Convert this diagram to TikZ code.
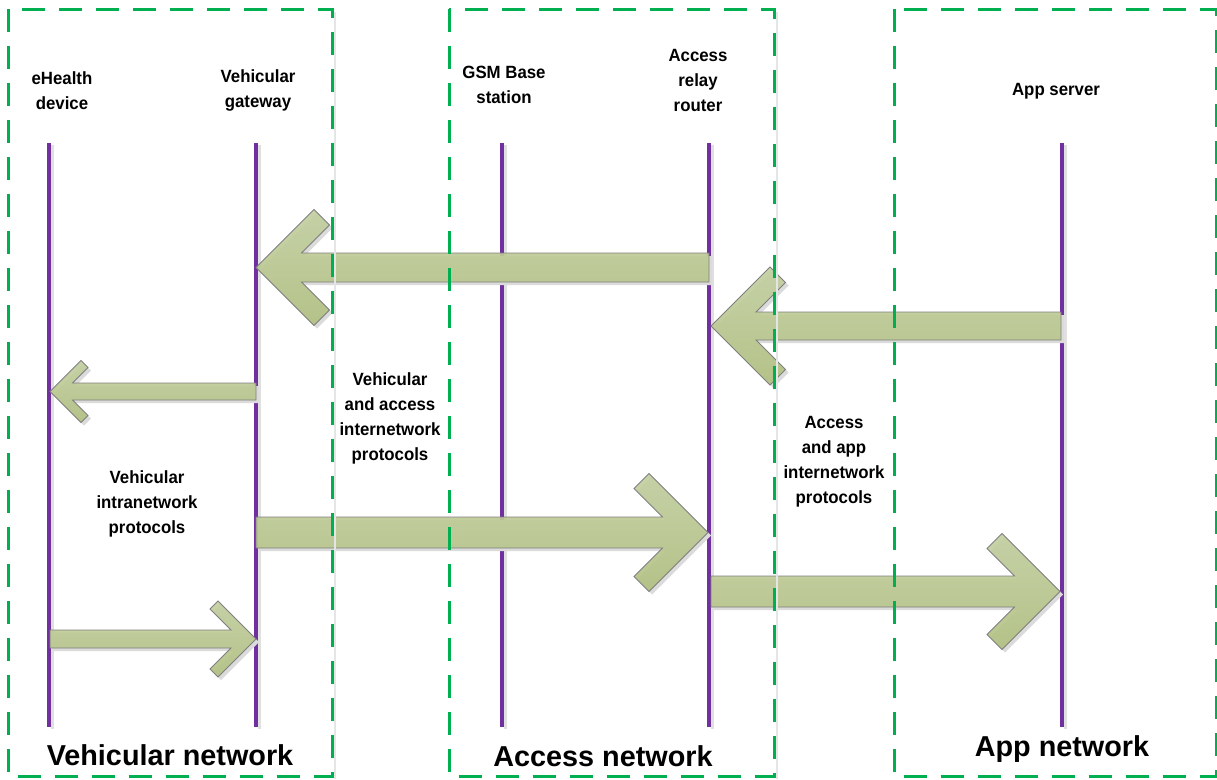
\documentclass[tikz,border=0pt]{standalone}
\usepackage{fontspec}
\setmainfont{Liberation Sans}
\newfontfamily\lblf[FakeStretch=0.95]{Liberation Sans Bold}
\newfontfamily\netf{Liberation Sans Bold}
\usetikzlibrary{calc,shadows}
\definecolor{boxgreen}{HTML}{00B050}
\definecolor{lifepurple}{HTML}{7030A0}
\definecolor{arrtop}{HTML}{C4D0A2}
\definecolor{arrbot}{HTML}{B2C183}
\definecolor{arredge}{HTML}{7F7F7F}
\tikzset{
  netbox/.style={draw=boxgreen, line width=3pt, dash pattern=on 23pt off 14pt},
  lifeline/.style={draw=lifepurple, line width=4pt},
  lifeshadow/.style={draw=black!12, line width=3pt},
  fatarrow/.style={draw=arredge, line width=0.8pt, top color=arrtop, bottom color=arrbot, fill opacity=0.93,
    drop shadow={shadow xshift=3pt, shadow yshift=-3pt, fill=black!14, opacity=1}},
  lbl/.style={align=center, font=\lblf\fontsize{17.7}{25}\selectfont, inner sep=0pt},
  netlbl/.style={font=\netf\fontsize{28.8}{32}\selectfont, inner sep=0pt}
}
% #1 tail, #2 tip, #3 half shaft, #4 head size a, #5 arm c, #6 direction (1 right, -1 left)
\newcommand{\chevarrow}[6]{%
  \draw[fatarrow] (#2) -- ++({-(#6)*(#4)},{-(#4)}) -- ++({-(#6)*(#5)},{#5})
    -- ($(#2)+({-(#6)*(2*(#5)+(#3))},{-(#3)})$) -- ($(#1)+(0,{-(#3)})$)
    -- ($(#1)+(0,{#3})$) -- ($(#2)+({-(#6)*(2*(#5)+(#3))},{#3})$)
    -- ($(#2)+({-(#6)*((#4)+(#5))},{(#4)-(#5)})$) -- ($(#2)+({-(#6)*(#4)},{#4})$) -- cycle;}
\begin{document}
\begin{tikzpicture}[x=1pt,y=-1pt]
\useasboundingbox (0,0) rectangle (1217,779);
% lifelines
\foreach \n/\x in {a/49,b/256,c/502,d/709,e/1062}{
  \coordinate (\n top) at (\x,143);
  \coordinate (\n bot) at (\x,727);
  \draw[lifeshadow] ($(\n top)+(3,2)$) -- ($(\n bot)+(3,2)$);
  \draw[lifeline] (\n top) -- (\n bot);
}
% arrow end points
\coordinate (t1) at (709,267.5);  \coordinate (h1) at (256,267.5);
\coordinate (t2) at (1061,326);   \coordinate (h2) at (711,326);
\coordinate (t3) at (256,391.5);  \coordinate (h3) at (50,391.5);
\coordinate (t4) at (50,639);     \coordinate (h4) at (256,639);
\coordinate (t5) at (256,532.5);  \coordinate (h5) at (708,532.5);
\coordinate (t6) at (711,591.5);  \coordinate (h6) at (1060,591.5);
\chevarrow{t1}{h1}{14.5}{58}{15.5}{-1}
\chevarrow{t2}{h2}{14}{59}{15.5}{-1}
\chevarrow{t3}{h3}{8.5}{31}{7}{-1}
\chevarrow{t4}{h4}{9}{38}{8}{1}
\chevarrow{t5}{h5}{15.5}{59}{15}{1}
\chevarrow{t6}{h6}{15.5}{58}{15}{1}
% network boxes
\draw[black!10, line width=2pt] (335,12) -- (335,779);
\draw[black!10, line width=2pt] (777,12) -- (777,779);
\draw[netbox] (8,9) rectangle (332,776.5);
\draw[netbox] (449,9) rectangle (774,776.5);
\draw[netbox] (894,9) rectangle (1216,776.5);
% labels
\node[lbl] (ehealth) at (62,90.5) {eHealth\\device};
\node[lbl] (vgw) at (258,90.5) {Vehicular\\gateway};
\node[lbl] (gsm) at (504,85) {GSM Base\\station};
\node[lbl] (arr) at (698,80) {Access\\relay\\router};
\node[lbl] (apps) at (1056,91) {App server};
\node[lbl] (vaip) at (390,418.5) {Vehicular\\and access\\internetwork\\protocols};
\node[lbl] (vip) at (147,504) {Vehicular\\intranetwork\\protocols};
\node[lbl] (aaip) at (834,461.5) {Access\\and app\\internetwork\\protocols};
\node[netlbl] (vn) at (170,755) {Vehicular network};
\node[netlbl] (an) at (603,756) {Access network};
\node[netlbl] (apn) at (1062,749) {App network};
\end{tikzpicture}
\end{document}
